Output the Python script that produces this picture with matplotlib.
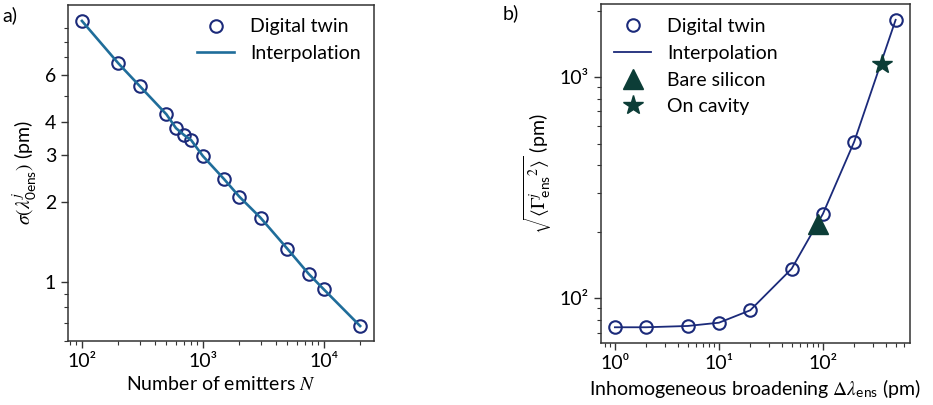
import matplotlib
matplotlib.use("Agg")
import matplotlib.pyplot as plt
from matplotlib.ticker import FuncFormatter, FixedLocator, NullFormatter
import numpy as np

plt.rcParams['font.family'] = ['Lato', 'DejaVu Sans']
plt.rcParams['mathtext.fontset'] = 'custom'
plt.rcParams['mathtext.rm'] = 'STIXGeneral'
plt.rcParams['mathtext.it'] = 'STIXGeneral:italic'
plt.rcParams['mathtext.sf'] = 'Lato'
plt.rcParams['font.size'] = 14

# panel a) data
n_emitters = [100, 200, 300, 500, 600, 700, 800, 1000, 1500, 2000, 3000, 5000, 7500, 10000, 20000]
sigma_lambda = [9.57, 6.63, 5.45, 4.26, 3.78, 3.56, 3.41, 2.97, 2.43, 2.09, 1.74, 1.33, 1.07, 0.936, 0.681]
a_yticks = [1, 2, 3, 4, 6]
a_yticklabels = ['1', '2', '3', '4', '6']
a_yminor = [0.6, 0.7, 0.8, 0.9, 5, 7, 8, 9]

# panel b) data
broadening = [1, 2, 5, 10, 20, 50, 100, 200, 500]
gamma_rms = [74, 74, 75, 77.6, 88.3, 136, 241, 511, 1815]
bare_silicon = ([89], [217])
on_cavity = ([371], [1141])

navy = '#1b2a7a'
teal = '#1f6d9a'
dkgreen = '#0c3d37'
sup = str.maketrans('0123456789-', '⁰¹²³⁴⁵⁶⁷⁸⁹⁻')


def pow10(v, pos):
    e = int(round(np.log10(v)))
    return '10' + str(e).translate(sup)


fig = plt.figure(figsize=(9.33, 4.05), dpi=100)
ax1 = fig.add_axes([0.0729, 0.158, 0.328, 0.830])
ax2 = fig.add_axes([0.644, 0.153, 0.331, 0.836])

# ---- a)
ax1.plot(n_emitters, sigma_lambda, 'o', ms=9, mfc='none', mec=navy, mew=1.5, label='Digital twin')
ax1.plot(n_emitters, sigma_lambda, '-', color=teal, lw=1.9, label='Interpolation')
ax1.set_xscale('log')
ax1.set_yscale('log')
ax1.yaxis.set_major_locator(FixedLocator(a_yticks))
ax1.yaxis.set_major_formatter(FuncFormatter(lambda v, p: a_yticklabels[a_yticks.index(v)] if v in a_yticks else ''))
ax1.yaxis.set_minor_locator(FixedLocator(a_yminor))
ax1.yaxis.set_minor_formatter(NullFormatter())
ax1.xaxis.set_major_formatter(FuncFormatter(pow10))
ax1.set_xlabel(r'Number of emitters $N$')
ax1.set_ylabel(r'$\sigma(\lambda^{j}_{\mathsf{0ens}})$ (pm)')
ax1.legend(loc='upper right', frameon=False, handlelength=1.9, borderaxespad=0.3)
ax1.set_ylim(0.598, 11.0)

# ---- b)
ax2.plot(broadening, gamma_rms, 'o', ms=9, mfc='none', mec=navy, mew=1.5, label='Digital twin')
ax2.plot(broadening, gamma_rms, '-', color=navy, lw=1.3, label='Interpolation')
ax2.plot(*bare_silicon, '^', ms=15, color=dkgreen, label='Bare silicon')
ax2.plot(*on_cavity, '*', ms=15, color=dkgreen, label='On cavity')
ax2.set_xscale('log')
ax2.set_yscale('log')
ax2.xaxis.set_major_formatter(FuncFormatter(pow10))
ax2.yaxis.set_major_formatter(FuncFormatter(pow10))
ax2.set_ylim(62.8, 2130)
ax2.set_xlabel(r'Inhomogeneous broadening $\Delta\lambda_{\mathsf{ens}}$ (pm)')
ax2.set_ylabel(r'$\sqrt{\langle {\Gamma^{j}_{\mathsf{ens}}}^{2} \rangle}$ (pm)')
ax2.legend(loc='upper left', frameon=False, handlelength=1.9, borderaxespad=0.3)

for ax in (ax1, ax2):
    for s in ax.spines.values():
        s.set_color('#333333')
        s.set_linewidth(1.1)
    ax.tick_params(which='major', length=5, width=1.0, color='#333333')
    ax.tick_params(which='minor', length=3, width=0.8, color='#333333')

fig.text(0.003, 0.985, 'a)', ha='left', va='top', fontsize=14)
fig.text(0.539, 0.99, 'b)', ha='left', va='top', fontsize=14)

fig.savefig('out.png', dpi=100)
